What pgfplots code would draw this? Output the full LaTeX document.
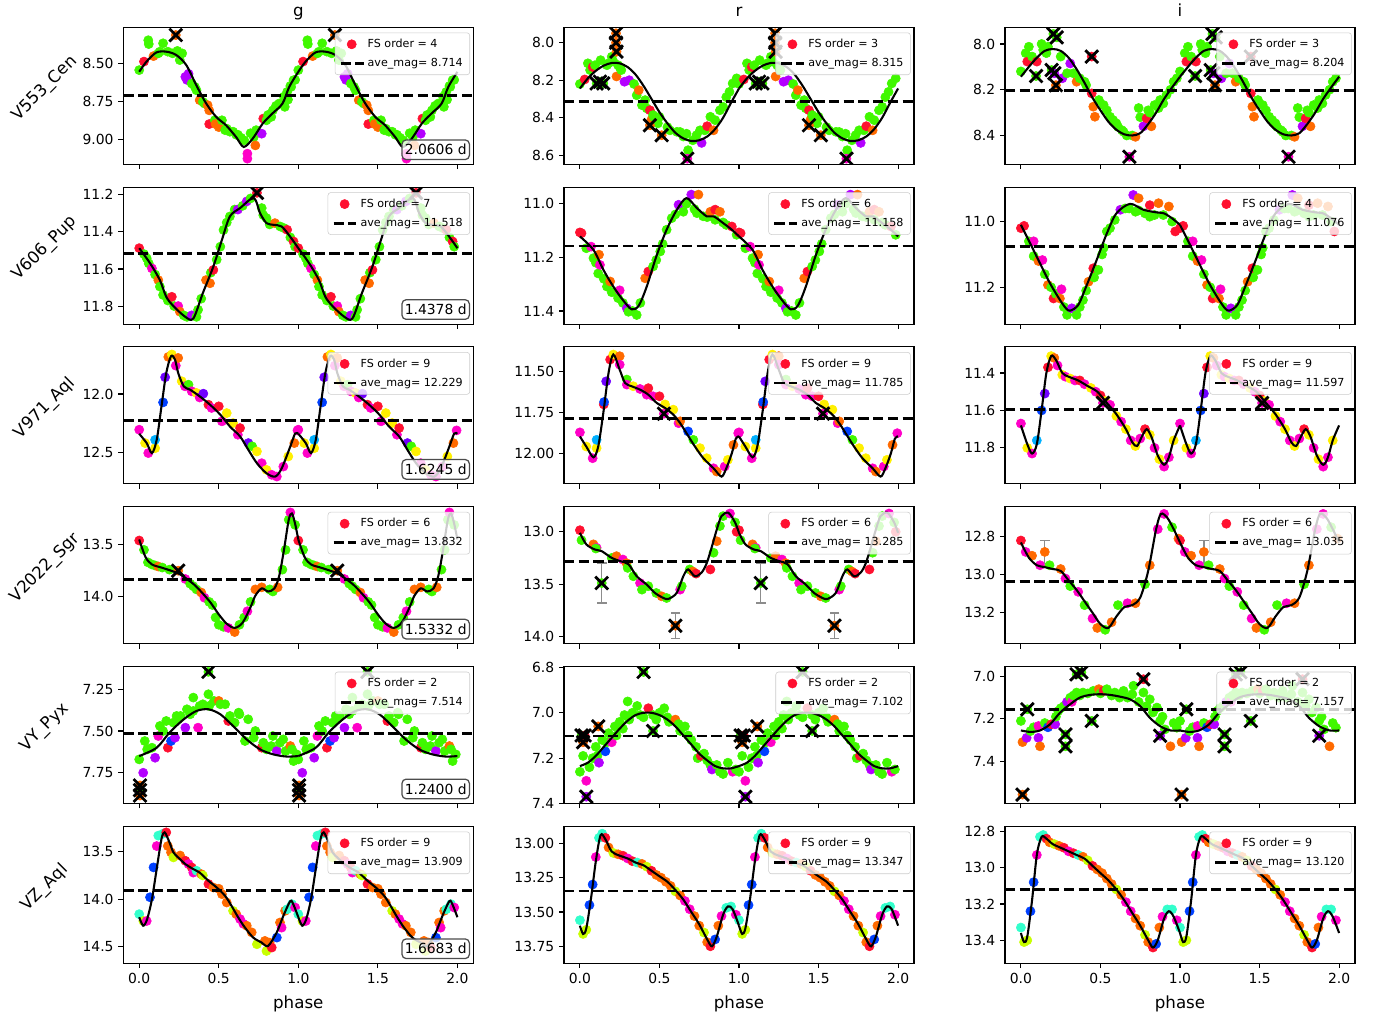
\documentclass[border=0pt]{standalone}
\usepackage{fontspec}
\setmainfont{DejaVu Sans}
\usepackage{pgfplots}
\usepackage{pgfplotstable}
\pgfplotsset{compat=1.18}
\definecolor{cG}{HTML}{40F800}
\definecolor{cO}{HTML}{FF6A00}
\definecolor{cR}{HTML}{FF1030}
\definecolor{cP}{HTML}{B400FF}
\definecolor{cM}{HTML}{FF00C8}
\definecolor{cY}{HTML}{FFF000}
\definecolor{cB}{HTML}{0040FF}
\definecolor{cC}{HTML}{00B0FF}
\definecolor{cA}{HTML}{33FFCC}
\definecolor{cL}{HTML}{C8FF00}
\definecolor{cV}{HTML}{7000FF}
\pgfplotsset{
  lc/.style={scale only axis, width=252pt, height=98.64pt, xmin=-0.1, xmax=2.1, y dir=reverse,
    xtick={0,0.5,1,1.5,2}, xticklabels={}, tick align=outside, tick pos=left,
    major tick length=3.5pt, every tick/.append style={line width=0.8pt, black},
    axis line style={line width=0.8pt}, clip marker paths=true,
    tick label style={font=\fontsize{10}{12}\selectfont},
    legend style={at={(0.9906,0.962)}, anchor=north east, font=\fontsize{8}{9.6}\selectfont,
      draw=black!20, fill=white, fill opacity=0.8, text opacity=1, draw opacity=1,
      rounded corners=2pt, inner xsep=3pt, inner ysep=2.5pt, row sep=2.2pt, cells={anchor=west}},
    legend cell align=left, anchor=north west},
  bot/.style={xticklabels={0.0,0.5,1.0,1.5,2.0}},
  pts/.style={scatter, only marks, scatter src=explicit symbolic, mark size=3.3pt,
    scatter/classes={G={mark=*,cG},O={mark=*,cO},R={mark=*,cR},P={mark=*,cP},M={mark=*,cM},
      Y={mark=*,cY},B={mark=*,cB},C={mark=*,cC},A={mark=*,cA},L={mark=*,cL},V={mark=*,cV}}},
  xm/.style={only marks, mark=x, mark size=6.5pt, line width=2pt, black},
  fit/.style={black, line width=1.5pt, smooth},
}
\newcommand\cyc[2]{\addplot[#1] table[x=p,y=m,meta=c]{#2};\addplot[#1] table[x expr=\thisrow{p}+1,y=m,meta=c]{#2};}
\newcommand\cur[1]{\addplot[fit] table[x=p,y=m]{#1};\addplot[fit] table[x expr=\thisrow{p}+1,y=m]{#1};}
\newcommand\ave[1]{\addplot[black,line width=2pt,dash pattern=on 7.4pt off 3.2pt] coordinates {(-0.1,#1) (2.2,#1)};}
\newcommand\leg[2]{\addlegendimage{legend image code/.code={\fill[cR, fill opacity=1] (8pt,0pt) circle (3.3pt);}}\addlegendentry{FS order = #1}\addlegendimage{legend image code/.code={\draw[black,draw opacity=1,line width=2pt,dash pattern=on 7.4pt off 3.2pt] (0pt,0pt) -- (16.5pt,0pt);}}\addlegendentry{ave\_mag= #2}}
\newcommand\per[1]{\node[draw=black!70, line width=0.9pt, rounded corners=3pt, fill=white, fill opacity=0.8, text opacity=1, draw opacity=1, font=\fontsize{10}{12}\selectfont, inner xsep=2pt, inner ysep=3.2pt, anchor=south east] at (axis description cs:0.9906,0.03) {#1};}
\newcommand\eb[3]{\addplot[black!45, line width=1pt] coordinates {(#1,#2) (#1,#3)};\addplot[black!45, only marks, mark=-, mark size=3.5pt, line width=1pt] coordinates {(#1,#2) (#1,#3)};}

% ---------------- V553_Cen ----------------
\pgfplotstableread{
p m c
0.00 8.546 G
0.03 8.49 R
0.057 8.35 G
0.06 8.375 G
0.09 8.454 O
0.12 8.436 G
0.13 8.425 G
0.15 8.37 G
0.18 8.425 G
0.21 8.436 G
0.24 8.42 G
0.255 8.48 G
0.27 8.436 G
0.29 8.59 P
0.30 8.61 P
0.31 8.57 P
0.33 8.634 G
0.35 8.656 G
0.36 8.678 G
0.38 8.743 O
0.40 8.754 G
0.41 8.765 G
0.43 8.776 O
0.44 8.81 O
0.44 8.90 R
0.475 8.875 G
0.48 8.90 O
0.50 8.92 O
0.52 8.875 G
0.54 8.94 G
0.55 8.93 G
0.57 8.95 G
0.59 8.95 G
0.61 8.97 G
0.62 8.97 G
0.64 8.99 G
0.66 9.007 G
0.68 9.094 M
0.68 9.127 M
0.70 8.96 G
0.72 8.985 G
0.73 9.04 O
0.735 8.94 G
0.77 8.963 P
0.78 8.864 R
0.80 8.875 G
0.81 8.84 G
0.83 8.853 G
0.84 8.81 G
0.86 8.78 G
0.88 8.765 G
0.91 8.72 G
0.915 8.787 G
0.93 8.689 G
0.935 8.74 G
0.95 8.65 G
0.955 8.656 G
0.97 8.612 G
0.98 8.61 G
}\tAg
\pgfplotstableread{
p m c
0.23 8.316 O
}\oAg
\pgfplotstableread{
p m
0 8.557
0.046 8.49
0.108 8.43
0.171 8.425
0.233 8.447
0.296 8.513
0.359 8.645
0.421 8.765
0.484 8.853
0.546 8.908
0.609 8.985
0.657 9.05
0.713 8.996
0.776 8.897
0.838 8.83
0.901 8.765
0.943 8.656
1.0 8.557
}\cAg
\pgfplotstableread{
p m c
0.00 8.22 G
0.03 8.196 R
0.05 8.11 G
0.064 8.146 G
0.08 8.13 R
0.095 8.12 G
0.13 8.093 G
0.17 8.12 G
0.18 8.11 G
0.20 8.075 G
0.21 8.10 G
0.23 8.18 O
0.24 8.12 G
0.25 8.13 G
0.26 8.146 G
0.28 8.208 P
0.31 8.20 P
0.34 8.22 G
0.357 8.28 G
0.37 8.253 O
0.39 8.333 G
0.41 8.306 G
0.42 8.35 G
0.44 8.36 R
0.45 8.41 O
0.46 8.386 G
0.47 8.413 G
0.49 8.43 G
0.50 8.395 G
0.55 8.45 G
0.566 8.467 G
0.61 8.475 G
0.63 8.476 G
0.65 8.50 G
0.67 8.485 G
0.68 8.573 G
0.71 8.52 G
0.733 8.493 G
0.755 8.467 G
0.765 8.534 P
0.785 8.467 G
0.80 8.445 R
0.82 8.395 G
0.84 8.467 O
0.85 8.413 G
0.88 8.36 G
0.90 8.342 G
0.92 8.29 G
0.94 8.262 G
0.96 8.217 G
0.985 8.19 G
}\tAr
\pgfplotstableread{
p m c
0.105 8.217 G
0.126 8.208 G
0.147 8.217 G
0.227 7.95 O
0.227 8.00 O
0.23 8.048 O
0.44 8.44 O
0.514 8.493 O
0.675 8.618 M
}\oAr
\pgfplotstableread{
p m
0 8.244
0.05 8.19
0.1 8.15
0.15 8.122
0.2 8.108
0.25 8.11
0.3 8.13
0.35 8.17
0.4 8.23
0.45 8.30
0.5 8.37
0.55 8.43
0.6 8.48
0.65 8.51
0.7 8.524
0.75 8.52
0.8 8.50
0.85 8.46
0.9 8.40
0.95 8.32
1.0 8.244
}\cAr
\pgfplotstableread{
p m c
0.00 8.12 G
0.03 8.04 G
0.04 8.077 R
0.05 8.012 G
0.07 8.055 G
0.10 8.077 R
0.13 8.00 G
0.14 8.026 G
0.16 8.04 G
0.17 8.012 G
0.25 8.055 G
0.26 8.15 P
0.29 8.128 G
0.31 8.085 P
0.33 8.128 G
0.35 8.165 O
0.37 8.15 G
0.40 8.165 G
0.41 8.18 G
0.445 8.216 R
0.455 8.274 O
0.465 8.318 O
0.49 8.245 G
0.52 8.267 G
0.54 8.29 G
0.56 8.318 G
0.58 8.333 G
0.60 8.347 G
0.61 8.362 G
0.635 8.377 G
0.645 8.384 G
0.665 8.40 G
0.70 8.40 G
0.72 8.406 O
0.74 8.28 G
0.75 8.32 G
0.77 8.36 P
0.79 8.325 R
0.80 8.29 G
0.81 8.30 G
0.82 8.36 O
0.84 8.267 G
0.865 8.28 G
0.875 8.245 G
0.895 8.26 G
0.915 8.223 G
0.94 8.20 G
0.96 8.165 G
0.98 8.15 G
}\tAi
\pgfplotstableread{
p m c
0.095 8.14 G
0.193 8.114 G
0.21 8.128 P
0.204 7.956 G
0.225 7.971 G
0.22 8.18 O
0.445 8.055 R
0.682 8.493 M
}\oAi
\pgfplotstableread{
p m
0 8.143
0.05 8.10
0.1 8.06
0.15 8.03
0.2 8.022
0.25 8.03
0.3 8.06
0.35 8.11
0.4 8.17
0.45 8.235
0.5 8.29
0.55 8.34
0.6 8.375
0.65 8.395
0.7 8.40
0.75 8.39
0.8 8.35
0.85 8.30
0.9 8.24
0.95 8.19
1.0 8.143
}\cAi
% ---------------- V606_Pup ----------------
\pgfplotstableread{
p m c
0.00 11.488 R
0.03 11.52 G
0.047 11.542 G
0.06 11.57 G
0.08 11.597 M
0.10 11.63 G
0.12 11.66 O
0.13 11.695 G
0.15 11.74 G
0.18 11.77 G
0.205 11.75 R
0.22 11.80 G
0.245 11.80 M
0.255 11.83 O
0.28 11.85 G
0.30 11.858 G
0.33 11.85 P
0.36 11.858 G
0.37 11.82 G
0.39 11.76 G
0.42 11.66 O
0.445 11.677 O
0.45 11.62 G
0.466 11.605 R
0.487 11.55 G
0.51 11.48 G
0.53 11.39 G
0.55 11.35 G
0.57 11.317 G
0.60 11.28 G
0.62 11.28 P
0.65 11.26 G
0.676 11.236 P
0.70 11.22 G
0.77 11.272 G
0.78 11.31 G
0.80 11.326 G
0.82 11.36 G
0.853 11.353 O
0.886 11.371 G
0.91 11.38 G
0.93 11.389 R
0.95 11.43 G
0.97 11.452 R
0.98 11.48 G
}\tBg
\pgfplotstableread{
p m c
0.74 11.19 R
}\oBg
\pgfplotstableread{
p m
0 11.488
0.068 11.569
0.13 11.66
0.17 11.75
0.215 11.80
0.29 11.858
0.34 11.867
0.40 11.73
0.466 11.587
0.52 11.443
0.57 11.317
0.634 11.272
0.72 11.218
0.76 11.30
0.80 11.353
0.843 11.362
0.895 11.371
0.948 11.425
1.0 11.488
}\cBg
\pgfplotstableread{
p m c
0.00 11.107 R
0.01 11.11 R
0.04 11.166 G
0.07 11.16 M
0.085 11.203 G
0.10 11.22 G
0.115 11.26 G
0.12 11.19 O
0.126 11.228 M
0.15 11.28 G
0.17 11.309 G
0.19 11.29 O
0.20 11.33 G
0.22 11.33 G
0.24 11.352 G
0.25 11.323 M
0.27 11.37 G
0.295 11.39 P
0.305 11.403 G
0.33 11.40 G
0.357 11.415 G
0.38 11.37 G
0.41 11.278 O
0.43 11.253 R
0.46 11.234 G
0.48 11.21 G
0.505 11.178 G
0.52 11.15 G
0.545 11.097 G
0.577 11.054 G
0.60 11.04 G
0.62 11.004 P
0.65 11.03 G
0.67 11.00 G
0.70 10.966 P
0.72 11.02 G
0.745 10.966 O
0.735 11.035 G
0.775 11.047 G
0.80 11.05 G
0.82 11.03 O
0.85 11.022 R
0.88 11.03 O
0.85 11.06 G
0.90 11.07 G
0.92 11.079 G
0.955 11.085 R
0.985 11.116 G
}\tBr
\pgfplotstableread{
p m
0 11.122
0.085 11.172
0.148 11.247
0.21 11.309
0.27 11.359
0.325 11.394
0.37 11.38
0.42 11.309
0.48 11.197
0.545 11.097
0.61 11.022
0.67 10.979
0.735 11.016
0.797 11.047
0.84 11.047
0.9 11.072
0.955 11.097
1.0 11.122
}\cBr
\pgfplotstableread{
p m c
0.00 11.02 R
0.02 11.013 R
0.05 11.06 G
0.08 11.06 M
0.08 11.105 G
0.11 11.12 O
0.135 11.117 M
0.15 11.16 G
0.17 11.193 O
0.19 11.20 G
0.205 11.234 R
0.22 11.22 G
0.245 11.234 O
0.255 11.206 M
0.27 11.26 G
0.29 11.284 G
0.32 11.264 P
0.35 11.284 G
0.37 11.26 G
0.39 11.239 G
0.41 11.21 G
0.425 11.183 O
0.455 11.142 R
0.46 11.17 G
0.487 11.147 G
0.51 11.10 G
0.52 11.08 G
0.54 11.03 G
0.56 11.02 G
0.59 10.995 G
0.625 10.964 P
0.655 10.96 G
0.68 10.96 G
0.706 10.919 P
0.72 10.97 G
0.74 10.929 O
0.74 10.966 G
0.78 10.975 G
0.81 10.95 R
0.81 10.985 G
0.84 10.98 G
0.865 10.944 O
0.895 10.98 G
0.93 10.954 O
0.95 11.00 G
0.97 11.03 R
}\tBi
\pgfplotstableread{
p m
0 11.01
0.058 11.066
0.12 11.127
0.183 11.188
0.246 11.239
0.285 11.265
0.31 11.271
0.36 11.254
0.41 11.198
0.476 11.117
0.54 11.036
0.6 10.975
0.686 10.946
0.77 10.964
0.853 10.972
0.9 10.975
0.95 10.99
1.0 11.01
}\cBi
% ---------------- V971_Aql ----------------
\pgfplotstableread{
p m c
0.00 12.307 M
0.037 12.422 Y
0.057 12.508 M
0.10 12.466 Y
0.10 12.394 C
0.15 12.072 B
0.163 11.856 V
0.183 11.681 O
0.205 11.66 Y
0.23 11.756 M
0.245 11.69 O
0.267 11.89 Y
0.288 11.934 M
0.31 11.92 G
0.33 11.977 M
0.36 11.991 Y
0.38 12.03 M
0.403 11.997 V
0.435 12.092 R
0.455 12.12 M
0.50 12.106 R
0.52 12.235 M
0.55 12.164 Y
0.59 12.25 Y
0.62 12.35 M
0.634 12.293 R
0.686 12.422 V
0.71 12.45 G
0.74 12.494 Y
0.77 12.595 M
0.80 12.652 Y
0.833 12.695 M
0.865 12.71 M
0.906 12.624 M
0.937 12.537 Y
0.975 12.422 O
0.995 12.313 M
}\tCg
\pgfplotstableread{
p m
0 12.342
0.047 12.422
0.08 12.508
0.11 12.394
0.14 12.106
0.17 11.82
0.2 11.675
0.225 11.704
0.245 11.819
0.28 11.934
0.32 11.963
0.38 12.02
0.445 12.092
0.51 12.178
0.57 12.279
0.634 12.365
0.686 12.48
0.74 12.595
0.8 12.681
0.855 12.71
0.896 12.638
0.95 12.45
0.98 12.34
1.0 12.342
}\cCg
\pgfplotstableread{
p m c
0.00 11.872 M
0.04 11.959 Y
0.08 12.031 M
0.105 11.969 Y
0.105 11.918 C
0.15 11.70 R
0.152 11.685 B
0.165 11.558 V
0.19 11.424 R
0.21 11.393 Y
0.25 11.403 O
0.25 11.455 M
0.295 11.547 G
0.295 11.578 M
0.335 11.588 Y
0.378 11.605 M
0.42 11.64 M
0.43 11.60 R
0.46 11.65 M
0.50 11.65 R
0.535 11.70 Y
0.587 11.732 Y
0.62 11.815 M
0.63 11.804 O
0.68 11.866 B
0.713 11.918 G
0.755 11.969 Y
0.797 12.031 Y
0.84 12.093 M
0.86 12.113 O
0.91 12.082 M
0.93 12.041 Y
0.965 11.949 O
0.995 11.877 M
}\tCr
\pgfplotstableread{
p m c
0.528 11.757 M
}\oCr
\pgfplotstableread{
p m
0 11.897
0.04 11.959
0.085 12.025
0.115 11.959
0.147 11.753
0.18 11.506
0.21 11.393
0.25 11.486
0.284 11.568
0.325 11.588
0.378 11.609
0.43 11.64
0.483 11.691
0.535 11.722
0.587 11.763
0.63 11.815
0.67 11.877
0.723 11.959
0.776 12.031
0.84 12.093
0.89 12.144
0.92 12.093
0.955 12.0
0.98 11.91
1.0 11.897
}\cCr
\pgfplotstableread{
p m c
0.00 11.67 M
0.04 11.80 Y
0.07 11.83 M
0.10 11.76 C
0.13 11.60 B
0.15 11.51 V
0.17 11.37 R
0.19 11.31 Y
0.21 11.32 O
0.23 11.36 M
0.26 11.41 Y
0.28 11.42 M
0.31 11.43 Y
0.34 11.44 M
0.37 11.44 R
0.40 11.46 M
0.44 11.48 Y
0.47 11.50 M
0.50 11.52 R
0.53 11.55 Y
0.56 11.57 M
0.60 11.63 Y
0.63 11.66 M
0.66 11.70 Y
0.69 11.76 M
0.72 11.79 Y
0.75 11.75 M
0.78 11.70 R
0.81 11.73 Y
0.84 11.80 M
0.87 11.86 Y
0.90 11.90 M
0.93 11.85 M
0.96 11.76 Y
}\tCi
\pgfplotstableread{
p m c
0.516 11.56 M
}\oCi
\pgfplotstableread{
p m
0 11.68
0.04 11.78
0.07 11.83
0.1 11.78
0.13 11.60
0.16 11.40
0.19 11.31
0.22 11.33
0.26 11.40
0.3 11.42
0.36 11.44
0.42 11.47
0.48 11.50
0.54 11.56
0.6 11.62
0.66 11.70
0.7 11.77
0.73 11.79
0.76 11.74
0.79 11.70
0.82 11.74
0.86 11.84
0.9 11.89
0.93 11.85
0.96 11.76
1.0 11.68
}\cCi
% ---------------- V2022_Sgr ----------------
\pgfplotstableread{
p m c
0.00 13.46 R
0.03 13.55 G
0.055 13.67 G
0.08 13.69 G
0.10 13.70 G
0.12 13.71 O
0.145 13.72 G
0.19 13.74 G
0.29 13.83 M
0.32 13.875 G
0.34 13.90 G
0.36 13.93 G
0.39 13.96 O
0.41 14.01 M
0.44 14.05 G
0.46 14.08 G
0.48 14.20 G
0.50 14.27 G
0.53 14.29 G
0.56 14.30 M
0.60 14.34 O
0.63 14.27 G
0.66 14.20 G
0.68 14.14 M
0.70 14.05 G
0.73 13.93 O
0.77 13.91 O
0.82 13.93 G
0.84 13.95 G
0.87 13.91 O
0.90 13.74 G
0.92 13.55 G
0.94 13.26 G
0.95 13.19 M
0.98 13.31 G
}\tDg
\pgfplotstableread{
p m c
0.245 13.75 O
}\oDg
\pgfplotstableread{
p m
0 13.45
0.04 13.62
0.08 13.69
0.14 13.72
0.2 13.75
0.25 13.78
0.3 13.83
0.35 13.89
0.4 13.97
0.45 14.06
0.5 14.17
0.55 14.26
0.6 14.30
0.65 14.25
0.7 14.10
0.73 13.99
0.77 13.92
0.81 13.95
0.85 13.92
0.88 13.80
0.91 13.55
0.94 13.26
0.96 13.20
0.98 13.30
1.0 13.45
}\cDg
\pgfplotstableread{
p m c
0.00 12.985 R
0.01 13.08 G
0.085 13.12 O
0.105 13.153 M
0.10 13.16 G
0.20 13.25 G
0.23 13.233 O
0.27 13.265 M
0.293 13.30 O
0.30 13.345 G
0.336 13.425 G
0.378 13.49 M
0.39 13.553 G
0.43 13.52 G
0.48 13.585 G
0.514 13.617 O
0.545 13.633 G
0.63 13.553 M
0.64 13.52 G
0.69 13.36 G
0.71 13.38 O
0.73 13.40 R
0.82 13.36 R
0.84 13.20 G
0.86 13.09 O
0.88 12.945 G
0.90 12.85 G
0.943 12.825 M
0.975 12.91 G
0.985 13.0 R
}\tDr
\pgfplotstableread{
p m c
0.137 13.49 G
0.60 13.898 O
}\oDr
\pgfplotstableread{
p m
0 13.01
0.04 13.12
0.095 13.17
0.137 13.185
0.2 13.25
0.252 13.28
0.305 13.31
0.357 13.425
0.42 13.505
0.472 13.585
0.525 13.633
0.556 13.642
0.608 13.585
0.65 13.425
0.68 13.36
0.723 13.425
0.765 13.39
0.797 13.30
0.828 13.15
0.86 12.98
0.89 12.85
0.933 12.818
0.975 12.91
1.0 13.01
}\cDr
\pgfplotstableread{
p m c
0.00 12.82 R
0.03 12.88 M
0.07 12.90 O
0.12 12.95 M
0.15 12.88 O
0.18 12.95 G
0.25 12.97 O
0.28 13.02 M
0.31 13.06 G
0.36 13.09 M
0.40 13.16 G
0.45 13.23 M
0.48 13.28 O
0.53 13.29 G
0.57 13.25 O
0.61 13.16 G
0.67 13.15 M
0.72 13.15 O
0.78 13.05 G
0.81 12.95 O
0.86 12.76 M
0.90 12.68 M
0.95 12.75 G
0.99 12.81 O
}\tDi
\pgfplotstableread{
p m
0 12.83
0.05 12.91
0.1 12.95
0.15 12.96
0.2 12.97
0.25 12.98
0.3 13.03
0.35 13.08
0.4 13.14
0.45 13.20
0.5 13.26
0.55 13.28
0.6 13.22
0.65 13.17
0.7 13.16
0.75 13.12
0.8 12.98
0.85 12.76
0.88 12.68
0.92 12.70
0.96 12.76
1.0 12.83
}\cDi
% ---------------- VY_Pyx ----------------
\pgfplotstableread{
p m c
0.00 7.67 G
0.025 7.75 P
0.035 7.56 G
0.05 7.61 G
0.08 7.60 G
0.10 7.66 P
0.12 7.53 M
0.13 7.47 G
0.15 7.50 G
0.17 7.44 G
0.18 7.60 R
0.20 7.56 B
0.215 7.45 G
0.225 7.54 P
0.235 7.41 G
0.245 7.43 G
0.26 7.41 G
0.29 7.48 P
0.30 7.37 G
0.32 7.40 G
0.34 7.30 G
0.34 7.38 G
0.37 7.48 M
0.38 7.35 G
0.40 7.34 G
0.435 7.28 G
0.44 7.35 G
0.47 7.32 G
0.50 7.32 O
0.51 7.34 G
0.54 7.34 G
0.56 7.44 R
0.57 7.41 G
0.60 7.45 G
0.625 7.39 G
0.63 7.40 G
0.665 7.56 G
0.685 7.43 G
0.72 7.54 G
0.73 7.50 G
0.77 7.60 R
0.78 7.57 G
0.80 7.61 G
0.83 7.59 G
0.84 7.53 G
0.865 7.62 P
0.885 7.57 G
0.905 7.55 G
0.92 7.62 G
0.95 7.59 O
0.96 7.61 G
0.97 7.68 G
0.99 7.64 G
}\tEg
\pgfplotstableread{
p m c
0.435 7.146 G
0.005 7.826 O
0.005 7.854 G
0.005 7.886 O
}\oEg
\pgfplotstableread{
p m
0 7.65
0.11 7.60
0.19 7.51
0.28 7.43
0.36 7.38
0.435 7.37
0.51 7.40
0.59 7.47
0.675 7.55
0.76 7.61
0.843 7.64
0.927 7.653
1.0 7.65
}\cEg
\pgfplotstableread{
p m c
0.00 7.26 G
0.02 7.19 G
0.04 7.30 M
0.06 7.24 G
0.08 7.20 G
0.10 7.15 G
0.11 7.19 G
0.12 7.22 P
0.14 7.12 G
0.16 7.17 B
0.17 7.13 G
0.18 7.09 G
0.20 7.13 M
0.22 7.06 G
0.23 7.10 G
0.25 7.04 G
0.27 7.07 G
0.28 7.01 G
0.30 6.95 G
0.31 7.03 G
0.33 7.00 G
0.36 6.97 G
0.38 7.01 G
0.40 7.02 G
0.43 6.98 R
0.46 7.01 G
0.48 7.03 G
0.50 7.00 G
0.53 6.98 G
0.55 7.02 G
0.56 7.04 G
0.60 7.03 O
0.62 7.05 G
0.63 7.08 G
0.66 7.06 G
0.68 7.10 G
0.70 7.12 G
0.73 7.15 G
0.74 7.20 G
0.76 7.19 R
0.78 7.18 G
0.80 7.21 G
0.82 7.23 G
0.83 7.25 P
0.86 7.23 G
0.88 7.26 G
0.90 7.27 G
0.93 7.22 G
0.96 7.26 M
0.98 7.25 G
}\tEr
\pgfplotstableread{
p m c
0.01 7.10 G
0.02 7.13 O
0.03 7.10 R
0.115 7.06 O
0.04 7.37 P
0.40 6.82 G
0.46 7.08 G
}\oEr
\pgfplotstableread{
p m
0 7.235
0.05 7.22
0.1 7.19
0.15 7.15
0.2 7.11
0.25 7.07
0.3 7.035
0.35 7.01
0.4 7.0
0.45 7.0
0.5 7.01
0.55 7.03
0.6 7.06
0.65 7.10
0.7 7.14
0.75 7.18
0.8 7.21
0.85 7.235
0.9 7.245
0.95 7.245
1.0 7.235
}\cEr
\pgfplotstableread{
p m c
0.00 7.21 G
0.01 7.31 O
0.036 7.29 P
0.06 7.258 G
0.08 7.24 G
0.11 7.234 M
0.11 7.29 P
0.12 7.33 O
0.15 7.22 G
0.17 7.24 B
0.19 7.226 R
0.215 7.226 P
0.22 7.19 G
0.235 7.163 G
0.25 7.15 G
0.27 7.14 G
0.29 7.12 P
0.31 7.10 G
0.32 7.12 M
0.33 7.09 G
0.35 7.076 G
0.37 7.09 G
0.39 7.076 G
0.42 7.08 G
0.455 7.068 G
0.49 7.06 O
0.50 7.08 G
0.52 7.068 R
0.54 7.06 G
0.57 7.09 G
0.59 7.076 G
0.62 7.10 G
0.645 7.068 G
0.67 7.10 G
0.70 7.084 G
0.707 7.044 G
0.74 7.12 G
0.77 7.076 G
0.79 7.14 G
0.81 7.108 G
0.83 7.17 G
0.855 7.147 G
0.875 7.21 G
0.89 7.19 G
0.905 7.25 G
0.94 7.33 O
0.96 7.22 G
0.98 7.242 G
}\tEi
\pgfplotstableread{
p m c
0.01 7.558 O
0.04 7.155 G
0.28 7.274 G
0.28 7.33 G
0.35 6.99 G
0.38 6.98 G
0.445 7.21 G
0.77 7.013 R
0.875 7.28 P
}\oEi
\pgfplotstableread{
p m
0 7.255
0.06 7.262
0.12 7.255
0.183 7.226
0.246 7.171
0.31 7.131
0.37 7.10
0.435 7.087
0.5 7.084
0.56 7.087
0.62 7.095
0.686 7.108
0.75 7.14
0.81 7.195
0.875 7.235
0.94 7.255
1.0 7.255
}\cEi
% ---------------- VZ_Aql ----------------
\pgfplotstableread{
p m c
0.00 14.158 A
0.026 14.23 L
0.047 14.23 M
0.068 13.98 B
0.09 13.665 B
0.11 13.44 M
0.12 13.33 A
0.15 13.31 A
0.17 13.296 R
0.18 13.44 O
0.20 13.507 O
0.215 13.56 L
0.257 13.54 O
0.29 13.595 R
0.31 13.63 M
0.33 13.666 R
0.34 13.72 M
0.36 13.70 A
0.39 13.736 O
0.40 13.75 L
0.435 13.84 R
0.466 13.877 O
0.50 13.89 O
0.52 13.947 O
0.55 14.035 O
0.59 14.123 L
0.61 14.158 O
0.634 14.21 M
0.655 14.26 M
0.676 14.28 O
0.707 14.35 O
0.74 14.475 L
0.79 14.44 O
0.80 14.546 L
0.82 14.458 O
0.833 14.51 R
0.865 14.405 B
0.885 14.246 O
0.895 14.30 M
0.917 14.123 O
0.93 14.106 A
0.96 14.053 A
0.98 14.088 M
}\tFg
\pgfplotstableread{
p m
0 14.19
0.025 14.28
0.05 14.21
0.08 14.0
0.11 13.68
0.14 13.366
0.16 13.296
0.19 13.40
0.215 13.507
0.245 13.56
0.29 13.63
0.34 13.683
0.38 13.72
0.435 13.806
0.487 13.877
0.54 13.965
0.58 14.07
0.623 14.194
0.665 14.30
0.717 14.405
0.77 14.458
0.81 14.493
0.864 14.352
0.906 14.176
0.95 14.02
0.97 14.06
1.0 14.19
}\cFg
\pgfplotstableread{
p m c
0.00 13.56 A
0.02 13.66 L
0.04 13.63 L
0.06 13.45 B
0.08 13.30 B
0.10 13.10 M
0.12 12.96 A
0.14 12.93 A
0.16 12.96 R
0.18 13.03 O
0.21 13.07 L
0.24 13.08 O
0.27 13.09 R
0.30 13.11 M
0.33 13.13 R
0.36 13.14 A
0.39 13.15 O
0.42 13.17 L
0.45 13.20 R
0.48 13.23 O
0.51 13.25 O
0.54 13.28 O
0.57 13.31 O
0.60 13.35 L
0.63 13.38 O
0.66 13.42 M
0.69 13.48 M
0.72 13.53 O
0.75 13.60 O
0.78 13.65 L
0.80 13.72 O
0.82 13.75 R
0.85 13.70 B
0.87 13.60 O
0.89 13.53 M
0.92 13.47 A
0.95 13.46 A
0.98 13.52 M
}\tFr
\pgfplotstableread{
p m
0 13.60
0.02 13.66
0.04 13.62
0.07 13.40
0.1 13.13
0.13 12.94
0.16 12.97
0.2 13.06
0.25 13.09
0.3 13.11
0.35 13.14
0.4 13.16
0.45 13.20
0.5 13.24
0.55 13.28
0.6 13.34
0.65 13.41
0.7 13.50
0.75 13.59
0.8 13.70
0.83 13.75
0.86 13.68
0.9 13.52
0.93 13.46
0.96 13.48
1.0 13.60
}\cFr
\pgfplotstableread{
p m c
0.00 13.33 A
0.02 13.41 L
0.04 13.40 L
0.06 13.24 B
0.08 13.08 B
0.10 12.93 M
0.12 12.83 A
0.14 12.82 A
0.16 12.84 R
0.18 12.86 O
0.21 12.87 L
0.24 12.88 O
0.27 12.89 R
0.30 12.91 M
0.33 12.92 R
0.36 12.93 A
0.39 12.94 O
0.42 12.96 L
0.45 12.99 R
0.48 13.01 O
0.51 13.03 O
0.54 13.06 O
0.57 13.09 O
0.60 13.12 L
0.63 13.15 O
0.66 13.19 M
0.69 13.24 M
0.72 13.28 O
0.75 13.32 O
0.78 13.37 L
0.80 13.41 O
0.83 13.44 R
0.85 13.42 B
0.87 13.33 O
0.89 13.27 M
0.92 13.23 A
0.95 13.23 A
0.98 13.29 M
}\tFi
\pgfplotstableread{
p m
0 13.36
0.02 13.41
0.04 13.38
0.07 13.18
0.1 12.93
0.13 12.83
0.16 12.84
0.2 12.87
0.25 12.89
0.3 12.91
0.35 12.93
0.4 12.95
0.45 12.99
0.5 13.03
0.55 13.07
0.6 13.12
0.65 13.18
0.7 13.25
0.75 13.32
0.8 13.40
0.83 13.44
0.86 13.40
0.9 13.28
0.93 13.24
0.96 13.27
1.0 13.36
}\cFi

\begin{document}
\begin{tikzpicture}
\useasboundingbox (0pt,0pt) rectangle (992.88pt,-735.12pt);
% ===== Row 1 =====
\begin{axis}[lc, at={(88.776pt,-19.656pt)}, ymin=8.265, ymax=9.164, ytick={8.5,8.75,9}, yticklabels={8.50,8.75,9.00}]
\leg{4}{8.714}
\cyc{pts}{\tAg}\cyc{pts}{\oAg}\cyc{xm}{\oAg}
\cur{\cAg}\ave{8.714}
\per{2.0606 d}
\end{axis}
\begin{axis}[lc, at={(406.08pt,-19.656pt)}, ymin=7.918, ymax=8.648, ytick={8.0,8.2,8.4,8.6}, yticklabels={8.0,8.2,8.4,8.6}]
\leg{3}{8.315}
\cyc{pts}{\tAr}\cyc{pts}{\oAr}\cyc{xm}{\oAr}
\cur{\cAr}\ave{8.315}
\end{axis}
\begin{axis}[lc, at={(723.6pt,-19.656pt)}, ymin=7.927, ymax=8.526, ytick={8.0,8.2,8.4}, yticklabels={8.0,8.2,8.4}]
\leg{3}{8.204}
\cyc{pts}{\tAi}\cyc{pts}{\oAi}\cyc{xm}{\oAi}
\cur{\cAi}\ave{8.204}
\end{axis}
% ===== Row 2 =====
\begin{axis}[lc, at={(88.776pt,-134.712pt)}, ymin=11.159, ymax=11.897, ytick={11.2,11.4,11.6,11.8}, yticklabels={11.2,11.4,11.6,11.8}]
\leg{7}{11.518}
\cyc{pts}{\tBg}\cyc{pts}{\oBg}\cyc{xm}{\oBg}
\cur{\cBg}\ave{11.518}
\per{1.4378 d}
\end{axis}
\begin{axis}[lc, at={(406.08pt,-134.712pt)}, ymin=10.938, ymax=11.449, ytick={11.0,11.2,11.4}, yticklabels={11.0,11.2,11.4}]
\leg{6}{11.158}
\cyc{pts}{\tBr}
\cur{\cBr}\ave{11.158}
\end{axis}
\begin{axis}[lc, at={(723.6pt,-134.712pt)}, ymin=10.895, ymax=11.312, ytick={11.0,11.2}, yticklabels={11.0,11.2}]
\leg{4}{11.076}
\cyc{pts}{\tBi}
\cur{\cBi}\ave{11.076}
\end{axis}
% ===== Row 3 =====
\begin{axis}[lc, at={(88.776pt,-249.768pt)}, ymin=11.595, ymax=12.773, ytick={12.0,12.5}, yticklabels={12.0,12.5}]
\leg{9}{12.229}
\cyc{pts}{\tCg}
\cur{\cCg}\ave{12.229}
\per{1.6245 d}
\end{axis}
\begin{axis}[lc, at={(406.08pt,-249.768pt)}, ymin=11.346, ymax=12.189, ytick={11.5,11.75,12.0}, yticklabels={11.50,11.75,12.00}]
\leg{9}{11.785}
\cyc{pts}{\tCr}\cyc{pts}{\oCr}\cyc{xm}{\oCr}
\cur{\cCr}\ave{11.785}
\end{axis}
\begin{axis}[lc, at={(723.6pt,-249.768pt)}, ymin=11.261, ymax=11.992, ytick={11.4,11.6,11.8}, yticklabels={11.4,11.6,11.8}]
\leg{9}{11.597}
\cyc{pts}{\tCi}\cyc{pts}{\oCi}\cyc{xm}{\oCi}
\cur{\cCi}\ave{11.597}
\end{axis}
% ===== Row 4 =====
\begin{axis}[lc, at={(88.776pt,-364.824pt)}, ymin=13.135, ymax=14.452, ytick={13.5,14.0}, yticklabels={13.5,14.0}]
\leg{6}{13.832}
\cyc{pts}{\tDg}\cyc{pts}{\oDg}\cyc{xm}{\oDg}
\cur{\cDg}\ave{13.832}
\per{1.5332 d}
\end{axis}
\begin{axis}[lc, at={(406.08pt,-364.824pt)}, ymin=12.76, ymax=14.07, ytick={13.0,13.5,14.0}, yticklabels={13.0,13.5,14.0}]
\leg{6}{13.285}
\eb{0.137}{13.30}{13.68}\eb{1.137}{13.30}{13.68}\eb{0.60}{13.778}{14.018}\eb{1.60}{13.778}{14.018}
\cyc{pts}{\tDr}\cyc{pts}{\oDr}\cyc{xm}{\oDr}
\cur{\cDr}\ave{13.285}
\end{axis}
\begin{axis}[lc, at={(723.6pt,-364.824pt)}, ymin=12.642, ymax=13.363, ytick={12.8,13.0,13.2}, yticklabels={12.8,13.0,13.2}]
\leg{6}{13.035}
\eb{0.15}{12.82}{12.94}\eb{1.15}{12.82}{12.94}
\cyc{pts}{\tDi}
\cur{\cDi}\ave{13.035}
\end{axis}
% ===== Row 5 =====
\begin{axis}[lc, at={(88.776pt,-479.88pt)}, ymin=7.114, ymax=7.934, ytick={7.25,7.5,7.75}, yticklabels={7.25,7.50,7.75}]
\leg{2}{7.514}
\cyc{pts}{\tEg}\cyc{pts}{\oEg}\cyc{xm}{\oEg}
\cur{\cEg}\ave{7.514}
\per{1.2400 d}
\end{axis}
\begin{axis}[lc, at={(406.08pt,-479.88pt)}, ymin=6.796, ymax=7.40, ytick={6.8,7.0,7.2,7.4}, yticklabels={6.8,7.0,7.2,7.4}]
\leg{2}{7.102}
\cyc{pts}{\tEr}\cyc{pts}{\oEr}\cyc{xm}{\oEr}
\cur{\cEr}\ave{7.102}
\end{axis}
\begin{axis}[lc, at={(723.6pt,-479.88pt)}, ymin=6.953, ymax=7.60, ytick={7.0,7.2,7.4}, yticklabels={7.0,7.2,7.4}]
\leg{2}{7.157}
\cyc{pts}{\tEi}\cyc{pts}{\oEi}\cyc{xm}{\oEi}
\cur{\cEi}\ave{7.157}
\end{axis}
% ===== Row 6 =====
\begin{axis}[lc, bot, at={(88.776pt,-594.936pt)}, ymin=13.232, ymax=14.676, ytick={13.5,14.0,14.5}, yticklabels={13.5,14.0,14.5}]
\leg{9}{13.909}
\cyc{pts}{\tFg}
\cur{\cFg}\ave{13.909}
\per{1.6683 d}
\end{axis}
\begin{axis}[lc, bot, at={(406.08pt,-594.936pt)}, ymin=12.876, ymax=13.874, ytick={13.0,13.25,13.5,13.75}, yticklabels={13.00,13.25,13.50,13.75}]
\leg{9}{13.347}
\cyc{pts}{\tFr}
\cur{\cFr}\ave{13.347}
\end{axis}
\begin{axis}[lc, bot, at={(723.6pt,-594.936pt)}, ymin=12.772, ymax=13.527, ytick={12.8,13.0,13.2,13.4}, yticklabels={12.8,13.0,13.2,13.4}]
\leg{9}{13.120}
\cyc{pts}{\tFi}
\cur{\cFi}\ave{13.120}
\end{axis}
% ===== titles and row labels =====
\begin{scope}[every node/.style={font=\fontsize{12}{14}\selectfont, inner sep=0pt}]
\node[anchor=base] at (214.78pt,-12.1pt) {g};
\node[anchor=base] at (532.08pt,-12.1pt) {r};
\node[anchor=base] at (849.6pt,-12.1pt) {i};
\node[anchor=base] at (214.78pt,-725.76pt) {phase};
\node[anchor=base] at (532.08pt,-725.76pt) {phase};
\node[anchor=base] at (849.6pt,-725.76pt) {phase};
\node[rotate=45] at (32.4pt,-63.94pt) {V553\_Cen};
\node[rotate=45] at (32.4pt,-178.99pt) {V606\_Pup};
\node[rotate=45] at (32.4pt,-294.05pt) {V971\_Aql};
\node[rotate=45] at (32.4pt,-409.1pt) {V2022\_Sgr};
\node[rotate=45] at (32.4pt,-524.16pt) {VY\_Pyx};
\node[rotate=45] at (32.4pt,-639.22pt) {VZ\_Aql};
\end{scope}
\end{tikzpicture}
\end{document}
